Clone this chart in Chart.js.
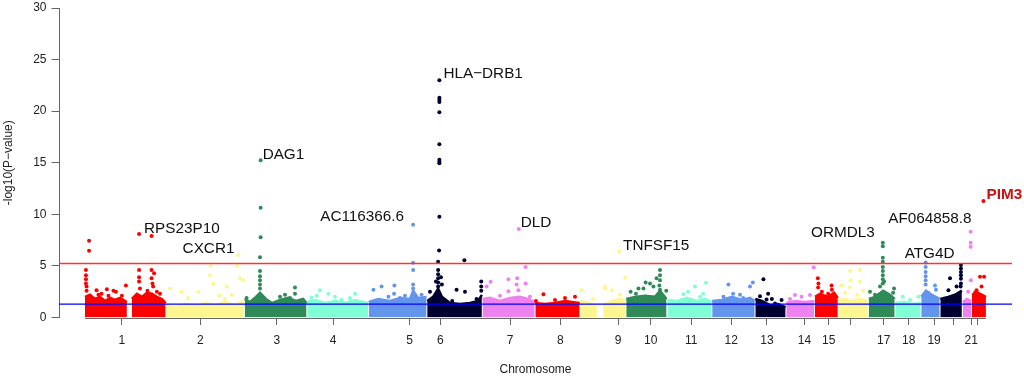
<!DOCTYPE html>
<html><head><meta charset="utf-8">
<script src="https://cdn.jsdelivr.net/npm/chart.js@4/dist/chart.umd.min.js"></script>
<style>html,body{margin:0;padding:0;background:#fff}#wrap{width:1024px;height:377px}</style>
</head><body><div id="wrap"><canvas id="c" width="1024" height="377"></canvas></div>
<script>
// ---------- DATA (positions in cumulative Mb, values in -log10 P) ----------
const chromosomes = ['1','2','3','4','5','6','7','8','9','10','11','12','13','14','15','16','17','18','19','20','21','22'];
const chrStart = [0,259,510,710,907,1094,1271,1440,1584,1731,1863,2006,2144,2243,2335,2410,2507,2592,2675,2736,2808,2837];
const chrEnd   = [259,510,710,907,1094,1271,1440,1584,1731,1863,2006,2144,2243,2335,2410,2507,2592,2675,2736,2808,2837,2883];
const tickPos = [118,369,614,794,1039,1137,1360,1521,1706,1810,1940,2068,2182,2302,2380,2451,2556,2636,2717,2778,2836,2855];
const tickLabels = ['1','2','3','4','5','6','7','8','9','10','11','12','13','14','15','','17','18','19','','21',''];

// upper edge of the dense cloud of non-significant SNPs
const bandEdge = [
 [0,2.0],[16,2.2],[32,1.8],[48,2.0],[64,1.6],[80,1.9],[96,1.7],[112,1.9],[134,1.5],[142,null],[150,1.8],[166,2.3],[182,2.0],[198,2.4],[214,2.3],[230,2.0],[246,1.8],[258,1.4],
 [260,1.2],[288,1.0],[320,1.3],[352,1.1],[384,1.4],[416,1.2],[448,1.5],[480,1.2],[508,1.6],
 [511,1.8],[528,1.5],[547,2.0],[560,2.4],[579,1.8],[598,1.4],[624,1.7],[650,1.9],[675,1.6],[698,1.8],[709,1.4],
 [711,1.5],[736,1.7],[768,1.4],[800,1.6],[832,1.4],[864,1.7],[906,1.4],
 [908,1.5],[938,1.8],[976,1.6],[1008,1.9],[1040,1.8],[1050,2.6],[1066,1.9],[1093,2.0],
 [1095,1.6],[1114,2.0],[1130,2.8],[1142,2.0],[1168,1.4],[1200,1.3],[1232,1.4],[1258,1.6],[1270,2.2],
 [1272,1.8],[1296,1.9],[1328,1.6],[1360,1.9],[1392,2.0],[1418,1.8],[1439,1.5],
 [1441,1.4],[1472,1.3],[1504,1.4],[1536,1.6],[1558,1.5],[1583,1.4],
 [1585,1.6],[1616,1.4],[1638,1.0],[1648,null],[1658,1.2],[1686,1.6],[1712,1.8],[1730,1.6],
 [1732,1.8],[1760,2.0],[1792,2.1],[1824,2.0],[1840,2.6],[1861,1.8],
 [1864,1.7],[1894,1.6],[1926,1.9],[1958,1.6],[1984,1.8],[2005,1.5],
 [2007,1.6],[2038,1.7],[2070,2.0],[2102,1.7],[2128,1.9],[2143,1.6],
 [2145,1.8],[2166,1.6],[2192,1.2],[2218,1.3],[2242,1.0],
 [2244,1.4],[2272,1.6],[2304,1.5],[2334,1.6],
 [2336,2.0],[2352,2.3],[2378,2.0],[2397,2.4],[2409,1.9],
 [2411,1.7],[2432,1.8],[2454,1.6],[2480,1.8],[2505,1.6],
 [2508,1.8],[2528,2.0],[2554,2.6],[2576,2.2],[2591,1.8],
 [2593,1.4],[2624,1.5],[2646,1.3],[2674,1.4],
 [2676,2.0],[2691,2.6],[2710,2.2],[2735,1.8],
 [2737,1.8],[2762,2.0],[2784,2.2],[2806,2.6],
 [2809,1.5],[2822,1.8],[2836,1.6],
 [2838,2.2],[2858,2.4],[2883,2.0]
];

// individual SNPs standing out above the cloud
const snps = [
 [3,4.6],[3,4.1],[3,3.7],[3,3.3],[5,3.0],[5,2.6],[13,7.44],[13,6.47],[37,2.65],[43,2.2],[53,2.3],[70,2.75],[75,2.1],[91,2.6],[99,2.5],[118,2.1],[131,3.1],[173,8.09],[213,7.9],[173,4.6],[173,3.9],[173,3.5],[176,2.8],[213,4.6],[221,4.3],[213,3.8],[216,3.3],[218,3.0],[200,2.6],[230,2.5],[240,2.3],
 [272,2.8],[309,2.5],[330,1.9],[363,2.5],[402,5.0],[400,4.1],[411,3.3],[430,2.1],[448,1.8],[453,3.0],[470,2.2],[487,5.0],[491,6.05],[496,3.8],[507,3.6],
 [517,1.9],[562,15.24],[562,10.64],[562,7.77],[560,5.83],[560,4.5],[560,4.0],[560,3.6],[560,3.2],[560,2.8],[624,2.0],[640,2.2],[656,1.9],[672,2.9],[672,2.3],
 [725,1.95],[742,2.1],[752,2.65],[779,2.3],[800,2.0],[821,1.7],[848,1.9],[864,2.3],
 [923,2.7],[949,3.0],[971,2.0],[989,2.3],[990,3.1],[1008,1.9],[1024,2.1],[1050,9.0],[1050,5.3],[1050,4.6],[1050,3.2],[1050,2.8],[1077,2.2],
 [1104,2.5],[1123,3.5],[1130,5.4],[1130,4.6],[1130,4.2],[1130,3.8],[1130,3.4],[1130,3.0],[1133,6.5],[1134,23.0],[1134,21.3],[1134,21.1],[1134,20.9],[1134,19.9],[1134,16.8],[1134,15.3],[1134,15.1],[1134,14.95],[1134,9.77],[1139,3.9],[1142,3.2],[1175,1.6],[1189,2.7],[1214,5.56],[1216,2.5],[1253,1.8],[1268,3.5],[1268,3.0],[1268,2.6],
 [1285,3.0],[1298,3.46],[1328,2.1],[1355,3.7],[1355,2.55],[1381,3.2],[1383,3.8],[1387,2.65],[1388,8.57],[1410,4.9],[1410,3.3],[1424,2.0],
 [1443,1.6],[1467,2.26],[1504,1.7],[1536,1.9],[1568,2.0],
 [1589,2.65],[1627,1.8],[1664,3.0],[1664,2.8],[1687,2.65],[1709,6.4],[1712,2.2],[1728,3.85],
 [1746,2.5],[1763,2.3],[1771,2.8],[1787,2.8],[1794,3.4],[1808,3.3],[1819,3.0],[1829,3.8],[1838,3.1],[1840,4.6],[1840,4.1],[1840,3.6],[1840,2.7],[1840,2.3],[1860,2.6],
 [1915,2.26],[1930,2.5],[1952,3.0],[1968,2.0],[1978,2.3],[1987,3.36],
 [2043,2.0],[2059,3.2],[2074,2.3],[2096,2.2],[2106,1.9],[2128,3.0],[2137,3.4],
 [2160,2.07],[2171,3.7],[2181,1.75],[2186,2.3],[2198,1.8],[2208,1.36],[2229,1.7],
 [2256,1.8],[2272,2.17],[2293,2.0],[2320,2.17],[2332,4.85],
 [2345,3.8],[2346,2.9],[2347,3.3],[2358,2.5],[2378,2.3],[2389,3.1],[2390,2.7],
 [2421,3.1],[2432,2.4],[2448,4.5],[2448,2.9],[2450,3.6],[2471,2.17],[2480,4.6],[2480,3.46],[2490,2.6],
 [2512,2.5],[2528,2.2],[2544,3.0],[2553,7.24],[2553,6.9],[2553,5.8],[2553,5.4],[2553,4.9],[2553,4.5],[2553,4.1],[2553,3.7],[2553,3.3],[2557,3.5],[2586,2.4],[2589,2.8],
 [2617,2.0],[2640,1.7],[2667,2.0],
 [2690,5.34],[2690,4.9],[2690,4.4],[2690,4.0],[2690,3.6],[2690,3.2],[2698,2.4],[2720,3.1],[2723,2.7],
 [2763,2.65],[2768,3.8],[2789,3.0],[2802,3.0],[2803,5.1],[2803,4.75],[2803,4.4],[2803,4.1],[2803,3.75],[2803,3.3],
 [2826,2.5],[2834,8.3],[2834,7.25],[2834,6.85],[2835,3.6],
 [2848,2.4],[2853,2.65],[2864,3.94],[2869,3.0],[2875,11.3],[2877,3.94]
];

const geneNames = ['RPS23P10','CXCR1','DAG1','AC116366.6','HLA\u2212DRB1','DLD','TNFSF15','ORMDL3','AF064858.8','ATG4D','PIM3'];
const genePos   = [173,491,562,1050,1134,1388,1709,2553,2834,2690,2875];
const geneVal   = [8.09,6.05,15.24,9.0,23.0,8.57,6.4,7.24,8.3,5.34,11.3];

const significanceLine = 5.24;
const suggestiveLine = 1.3;

// ---------- STYLE ----------
const palette = ['#ff0000','#fff68f','#2e8b57','#7fffd4','#6495ed','#000030','#ee82ee'];
const FONT = "'Liberation Sans', Arial, Helvetica, sans-serif";
const labelStyle = [
  {align:'left',  dx:5,  dy:-5},
  {align:'right', dx:-4, dy:-6},
  {align:'left',  dx:2,  dy:-6},
  {align:'right', dx:-9, dy:-8},
  {align:'left',  dx:4,  dy:-6},
  {align:'left',  dx:2,  dy:-6},
  {align:'left',  dx:4,  dy:-6},
  {align:'right', dx:-8, dy:-10},
  {align:'right', dx:1,  dy:-13},
  {align:'center',dx:4,  dy:-9},
  {align:'left',  dx:3,  dy:-6, bold:true, color:'#cc1111'}
];
const thresholdStyle = [
  {value: significanceLine, color:'#ff3333', width:1.4},
  {value: suggestiveLine,   color:'#0000ff', width:1.2}
];

function chrIndex(p){
  for (let i=0;i<chrStart.length;i++) if (p>=chrStart[i] && p<chrEnd[i]) return i;
  return chrStart.length-1;
}

const datasets = [];
chromosomes.forEach((c,i)=>{
  const col = palette[i % palette.length];
  datasets.push({
    type:'line', label:'band '+c,
    data: bandEdge.filter(d=>chrIndex(d[0])===i).map(d=>({x:d[0], y:d[1]})),
    borderColor: col, backgroundColor: col, borderWidth: 2.5,
    pointRadius: 0, fill: 'origin', tension: 0, spanGaps: false, order: 2
  });
  datasets.push({
    type:'scatter', label:'chr '+c,
    data: snps.filter(d=>chrIndex(d[0])===i).map(d=>({x:d[0], y:d[1]})),
    backgroundColor: col, borderColor: col, borderWidth: 0,
    pointRadius: 2, pointHoverRadius: 2, order: 1, clip: false
  });
});

const overlay = {
  id:'overlay',
  afterDatasetsDraw(chart){
    const {ctx, chartArea:a, scales:{x,y}} = chart;
    ctx.save();
    // threshold lines
    thresholdStyle.forEach(t=>{
      const py = y.getPixelForValue(t.value);
      ctx.strokeStyle = t.color; ctx.lineWidth = t.width;
      ctx.beginPath(); ctx.moveTo(a.left, py); ctx.lineTo(a.right, py); ctx.stroke();
    });
    // x axis line spanning the genome
    const yb = Math.round(a.bottom) + 0.5;
    ctx.strokeStyle = '#666'; ctx.lineWidth = 1;
    ctx.beginPath();
    ctx.moveTo(x.getPixelForValue(chrStart[0]), yb);
    ctx.lineTo(x.getPixelForValue(chrEnd[chrEnd.length-1]), yb);
    ctx.stroke();
    // gene labels
    ctx.textBaseline = 'middle';
    geneNames.forEach((g,i)=>{
      const s = labelStyle[i];
      ctx.font = (s.bold?'bold ':'') + '15.3px ' + FONT;
      ctx.fillStyle = s.color || '#111';
      ctx.textAlign = s.align;
      ctx.fillText(g, x.getPixelForValue(genePos[i]) + s.dx, y.getPixelForValue(geneVal[i]) + s.dy);
    });
    ctx.restore();
  }
};

new Chart(document.getElementById('c'), {
  type:'scatter',
  data:{ datasets },
  options:{
    responsive:false, animation:false, devicePixelRatio:1,
    layout:{ padding:{ top:8, right:12, bottom:0, left:0 } },
    plugins:{ legend:{display:false}, tooltip:{enabled:false} },
    scales:{
      x:{
        type:'linear', min:-83.2, max:2966.4,
        afterBuildTicks(scale){ scale.ticks = tickPos.map(v=>({value:v})); },
        afterFit(scale){ scale.height = 59.5; scale.paddingLeft = 0; scale.paddingRight = 0; },
        ticks:{ autoSkip:false, maxRotation:0, padding:8.5, color:'#222',
                font:{family:FONT, size:12},
                callback:(v,i)=>tickLabels[i] },
        grid:{ display:true, drawOnChartArea:false, drawTicks:true, tickLength:7.5, color:'#666' },
        border:{ display:false },
        title:{ display:true, text:'Chromosome', color:'#222', font:{family:FONT, size:12}, padding:{top:0,bottom:0} }
      },
      y:{
        type:'linear', min:0, max:30,
        afterFit(scale){ scale.width = 59; scale.paddingTop = 0; scale.paddingBottom = 0; },
        ticks:{ stepSize:5, padding:5, color:'#222', font:{family:FONT, size:12} },
        grid:{ display:true, drawOnChartArea:false, drawTicks:true, tickLength:7.5, color:'#666' },
        border:{ display:true, color:'#666' },
        title:{ display:true, text:'-log10(P\u2212value)', color:'#222', font:{family:FONT, size:12}, padding:{top:1,bottom:0} }
      }
    }
  },
  plugins:[overlay]
});
</script>
</body></html>
